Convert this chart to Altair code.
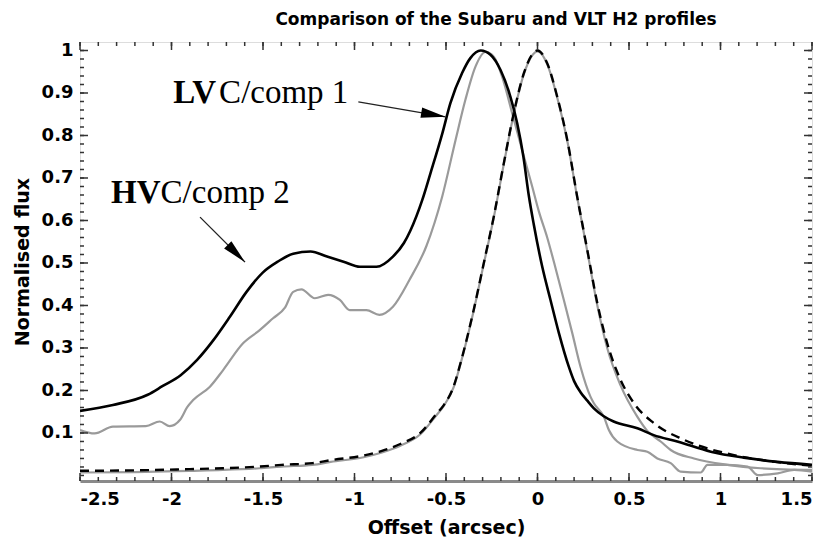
import altair as alt
import pandas as pd
import math

# ---------------- data ----------------
# Black solid profile (Subaru)
blk_x = [-2.5, -2.32, -2.13, -2.05, -1.95, -1.86, -1.77, -1.68, -1.59, -1.5, -1.42, -1.335,
         -1.24, -1.15, -1.06, -0.97, -0.88, -0.79, -0.73, -0.695, -0.63, -0.585, -0.52, -0.476,
         -0.412, -0.367, -0.31, -0.257, -0.202, -0.148, -0.111, -0.077, -0.048, -0.02, 0.026,
         0.071, 0.117, 0.171, 0.2, 0.235, 0.272, 0.308, 0.36, 0.416, 0.546, 0.635, 0.764, 0.947,
         1.127, 1.312, 1.5]
blk_y = [0.152, 0.166, 0.19, 0.21, 0.236, 0.272, 0.319, 0.374, 0.432, 0.478, 0.503, 0.522,
         0.527, 0.515, 0.503, 0.491, 0.491, 0.515, 0.547, 0.576, 0.648, 0.711, 0.805, 0.876,
         0.947, 0.982, 1.0, 0.99, 0.954, 0.891, 0.829, 0.75, 0.66, 0.59, 0.491,
         0.413, 0.335, 0.256, 0.222, 0.196, 0.176, 0.158, 0.14, 0.127, 0.111, 0.095, 0.08, 0.056,
         0.042, 0.032, 0.025]

# Grey solid profile (VLT)
gry_x = [-2.5, -2.42, -2.32, -2.14, -2.064, -2.01, -1.953, -1.915, -1.88, -1.79, -1.718, -1.609,
         -1.518, -1.445, -1.38, -1.335, -1.29, -1.217, -1.144, -1.08, -1.026, -0.935, -0.864,
         -0.79, -0.7, -0.607, -0.521, -0.448, -0.394, -0.339, -0.284, -0.238, -0.193, -0.138,
         -0.084, -0.029, 0.007, 0.053, 0.098, 0.144, 0.19, 0.235, 0.29, 0.308, 0.363, 0.39, 0.436,
         0.546, 0.6, 0.655, 0.728, 0.782, 0.892, 0.929, 1.038, 1.148, 1.203, 1.313, 1.402, 1.5]
gry_y = [0.107, 0.099, 0.115, 0.116, 0.127, 0.116, 0.131, 0.16, 0.178, 0.209, 0.248, 0.311,
         0.342, 0.37, 0.395, 0.432, 0.438, 0.417, 0.425, 0.413, 0.389, 0.389, 0.378,
         0.397, 0.46, 0.54, 0.656, 0.789, 0.884, 0.962, 0.997, 0.985, 0.938, 0.852,
         0.766, 0.68, 0.622, 0.56, 0.489, 0.413, 0.335, 0.256, 0.185, 0.17, 0.138, 0.107, 0.08,
         0.06, 0.056, 0.04, 0.029, 0.009, 0.007, 0.025, 0.025, 0.021, 0.001, 0.005, 0.013, 0.009]

# PSF profiles (black dashed, grey solid)
psfb_x = [-2.5, -2.2, -1.9, -1.72, -1.52, -1.4, -1.23, -1.13, -0.95, -0.85, -0.75, -0.64, -0.55,
          -0.513, -0.458, -0.421, -0.349, -0.294, -0.239, -0.184, -0.13, -0.075, -0.03, 0.0,
          0.053, 0.108, 0.163, 0.217, 0.272, 0.327, 0.381, 0.454, 0.527, 0.636, 0.8, 1.074,
          1.3, 1.5]
psfb_y = [0.011, 0.012, 0.015, 0.017, 0.021, 0.025, 0.029, 0.036, 0.047, 0.058, 0.074, 0.1, 0.146,
          0.165, 0.21, 0.264, 0.389, 0.499, 0.609, 0.735, 0.852, 0.946, 0.99, 1.0,
          0.97, 0.891, 0.789, 0.656, 0.531, 0.405, 0.311, 0.225, 0.17, 0.123, 0.084, 0.048,
          0.032, 0.023]
psfg_x = [-2.5, -2.2, -1.9, -1.72, -1.52, -1.4, -1.23, -1.13, -0.95, -0.85, -0.75, -0.64, -0.55,
          -0.513, -0.458, -0.421, -0.349, -0.294, -0.239, -0.184, -0.13, -0.075, -0.03, 0.0,
          0.053, 0.108, 0.163, 0.217, 0.272, 0.327, 0.381, 0.454, 0.546, 0.6, 0.673, 0.728,
          0.855, 1.038, 1.22, 1.5]
psfg_y = [0.007, 0.008, 0.011, 0.013, 0.017, 0.021, 0.025, 0.032, 0.043, 0.054, 0.07, 0.097, 0.143,
          0.163, 0.208, 0.262, 0.387, 0.497, 0.607, 0.733, 0.85, 0.944, 0.988, 0.998,
          0.968, 0.889, 0.787, 0.654, 0.528, 0.4, 0.3, 0.212, 0.138, 0.105, 0.08, 0.06,
          0.04, 0.025, 0.017, 0.013]

# annotations: bold lead letters + regular remainder
ann_bold = ["LV", "HV"]
ann_rest = ["C/comp 1", "C/comp 2"]
ann_x = [-1.99, -2.33]
ann_y = [0.876, 0.641]
arrow_x0 = [-0.979, -1.844]
arrow_y0 = [0.879, 0.608]
arrow_x1 = [-0.503, -1.598]
arrow_y1 = [0.844, 0.502]

x_major = [-2.5, -2, -1.5, -1, -0.5, 0, 0.5, 1, 1.5]
y_major = [0.1, 0.2, 0.3, 0.4, 0.5, 0.6, 0.7, 0.8, 0.9, 1]
x_minor = [round(-2.5 + 0.1 * i, 2) for i in range(41)]
y_minor = [round(0.02 * i, 2) for i in range(51)]

# ---------------- chart ----------------
W, H = 732, 439
XDOM = [-2.5, 1.5]
YDOM = [-0.013, 1.02]
FONT = "DejaVu Sans"
SERIF = "Liberation Serif"
ASIZE = 33

xscale = alt.Scale(domain=XDOM, nice=False, zero=False)
yscale = alt.Scale(domain=YDOM, nice=False, zero=False)

xaxis = alt.Axis(values=x_major, labelExpr="'' + datum.value", title="Offset (arcsec)",
                 grid=False, ticks=False, domain=True, domainColor="#8a8a8a", domainWidth=3,
                 labelFont=FONT, labelFontSize=18, labelFontWeight="bold", labelColor="black",
                 labelPadding=9, titleFont=FONT, titleFontSize=19, titleFontWeight="bold",
                 titleColor="black", titlePadding=10)
yaxis = alt.Axis(values=y_major, labelExpr="'' + datum.value", title="Normalised flux",
                 grid=False, ticks=False, domain=False,
                 labelFont=FONT, labelFontSize=18, labelFontWeight="bold", labelColor="black",
                 labelPadding=7, titleFont=FONT, titleFontSize=19, titleFontWeight="bold",
                 titleColor="black", titlePadding=9)


def enc_xy(xf, yf):
    return dict(x=alt.X(xf, scale=xscale, axis=xaxis), y=alt.Y(yf, scale=yscale, axis=yaxis))


def curve(xs, ys, color, width, dash=None):
    df = pd.DataFrame({"x": xs, "y": ys})
    kw = dict(color=color, strokeWidth=width, interpolate="monotone", clip=True)
    if dash:
        kw["strokeDash"] = dash
    return alt.Chart(df).mark_line(**kw).encode(**enc_xy("x:Q", "y:Q"))


layers = [
    curve(gry_x, gry_y, "#9a9a9a", 2.2),
    curve(psfg_x, psfg_y, "#9a9a9a", 2.2),
    curve(blk_x, blk_y, "black", 2.6),
    curve(psfb_x, psfb_y, "black", 2.4, dash=[9, 6]),
]

# inward ticks on all four sides
tick_col = "#333333"
for vals, ln in [(x_major, 8), (x_minor, 4)]:
    df = pd.DataFrame({"v": vals})
    layers.append(alt.Chart(df).mark_rule(color=tick_col, strokeWidth=1.5).encode(
        x=alt.X("v:Q", scale=xscale, axis=xaxis), y=alt.value(H), y2=alt.value(H - ln)))
    layers.append(alt.Chart(df).mark_rule(color=tick_col, strokeWidth=1.5).encode(
        x=alt.X("v:Q", scale=xscale, axis=xaxis), y=alt.value(0), y2=alt.value(ln)))
for vals, ln in [(y_major, 8), (y_minor, 4)]:
    df = pd.DataFrame({"v": vals})
    layers.append(alt.Chart(df).mark_rule(color=tick_col, strokeWidth=1.5).encode(
        y=alt.Y("v:Q", scale=yscale, axis=yaxis), x=alt.value(0), x2=alt.value(ln)))
    layers.append(alt.Chart(df).mark_rule(color=tick_col, strokeWidth=1.5).encode(
        y=alt.Y("v:Q", scale=yscale, axis=yaxis), x=alt.value(W), x2=alt.value(W - ln)))

# annotation arrows
arr = pd.DataFrame({"x0": arrow_x0, "y0": arrow_y0, "x1": arrow_x1, "y1": arrow_y1})
layers.append(alt.Chart(arr).mark_rule(color="#222222", strokeWidth=1.3).encode(
    x2="x1:Q", y2="y1:Q", **enc_xy("x0:Q", "y0:Q")))
sx = W / (XDOM[1] - XDOM[0])
sy = H / (YDOM[1] - YDOM[0])
angles = []
for a, b, c, d in zip(arrow_x0, arrow_y0, arrow_x1, arrow_y1):
    dx = (c - a) * sx
    dy = -(d - b) * sy
    angles.append(math.degrees(math.atan2(dx, -dy)) % 360)
heads = pd.DataFrame({"x": arrow_x1, "y": arrow_y1, "ang": angles})
layers.append(alt.Chart(heads).mark_point(
    shape="M0,0 L0.42,2 L-0.42,2 Z", filled=True, color="black", opacity=1, size=600,
    strokeWidth=0).encode(angle=alt.Angle("ang:Q", scale=None), **enc_xy("x:Q", "y:Q")))

# annotation text (bold lead, regular remainder)
bold_w = [44.4, 48.0]  # pixel width of the bold lead at 32px
for i in range(2):
    df = pd.DataFrame({"t": [ann_bold[i]], "r": [ann_rest[i]], "x": [ann_x[i]], "y": [ann_y[i]]})
    layers.append(alt.Chart(df).mark_text(
        font=SERIF, fontSize=ASIZE, fontWeight="bold", align="left", baseline="alphabetic",
        color="black").encode(text="t:N", **enc_xy("x:Q", "y:Q")))
    layers.append(alt.Chart(df).mark_text(
        font=SERIF, fontSize=ASIZE, align="left", baseline="alphabetic", color="black",
        dx=bold_w[i] * ASIZE / 32).encode(text="r:N", **enc_xy("x:Q", "y:Q")))

chart = alt.layer(*layers).properties(
    width=W, height=H,
    title=alt.TitleParams("Comparison of the Subaru and VLT H2 profiles", font=FONT,
                          fontSize=17, fontWeight="bold", color="black", anchor="middle",
                          offset=12, dx=50),
    autosize=alt.AutoSizeParams(type="none"),
    padding={"left": 72, "top": 34, "right": 10, "bottom": 62},
).configure_view(stroke="black", strokeWidth=1.2).configure(background="white")

chart.save("out.html", embed_options={"renderer": "svg", "actions": False})
